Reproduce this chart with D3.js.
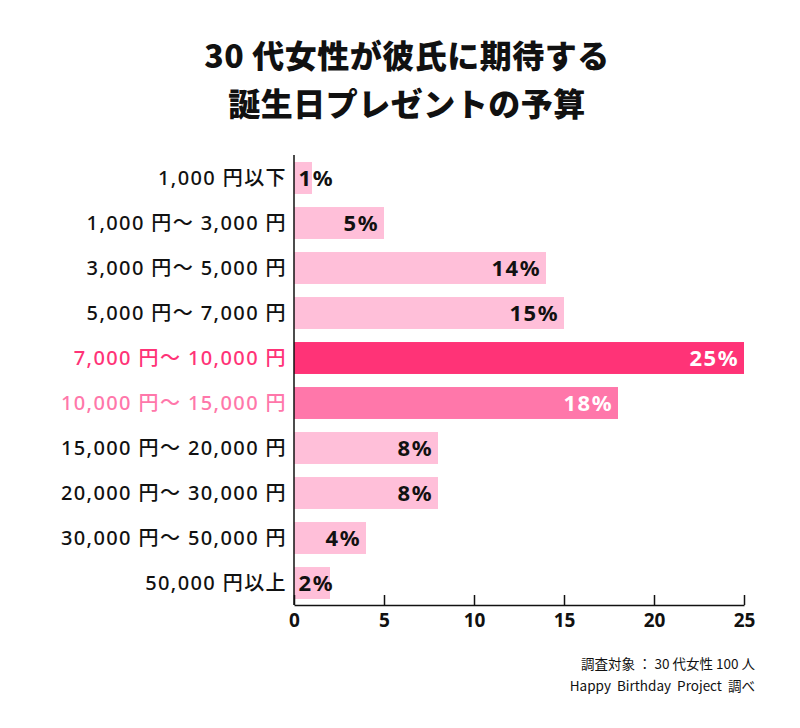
<!DOCTYPE html>
<html><head><meta charset="utf-8">
<script src="https://cdn.jsdelivr.net/npm/d3@7"></script>
<style>body{margin:0;background:#fff}svg{display:block}text{font-family:"Noto Sans CJK JP","Noto Sans",sans-serif}</style>
</head><body><svg id="c" width="800" height="728"></svg>
<script>
const categories = ["1,000 円以下","1,000 円〜 3,000 円","3,000 円〜 5,000 円","5,000 円〜 7,000 円","7,000 円〜 10,000 円","10,000 円〜 15,000 円","15,000 円〜 20,000 円","20,000 円〜 30,000 円","30,000 円〜 50,000 円","50,000 円以上"];
const values = [1,5,14,15,25,18,8,8,4,2];
const xTicks = [0,5,10,15,20,25];
const titleLines = ["30 代女性が彼氏に期待する","誕生日プレゼントの予算"];
const notes = ["調査対象 ： 30 代女性 100 人","Happy  Birthday  Project  調べ"];

const svg = d3.select("#c");
const x = d3.scaleLinear().domain([0,25]).range([294,744]);
const y = d3.scaleBand().domain(categories).range([155.5,605.5]).paddingInner(0.29).paddingOuter(0.145);
const barColor = i => i===4 ? "#ff3377" : i===5 ? "#ff77aa" : "#ffbfd9";
const labelColor = i => i===4 ? "#ff3377" : i===5 ? "#ff77aa" : "#111";

svg.selectAll("text.title").data(titleLines).join("text")
  .attr("x",407).attr("y",(d,i)=>68+i*48).attr("text-anchor","middle")
  .attr("font-size",32).attr("font-weight",900).attr("fill","#111").attr("letter-spacing",0.5).text(d=>d);

svg.selectAll("rect.bar").data(values).join("rect")
  .attr("x",x(0)).attr("y",(d,i)=>y(categories[i]))
  .attr("width",d=>x(d)-x(0)).attr("height",y.bandwidth())
  .attr("fill",(d,i)=>barColor(i));

svg.selectAll("text.cat").data(categories).join("text")
  .attr("x",287).attr("y",d=>y(d)+y.bandwidth()/2).attr("dy","0.36em")
  .attr("text-anchor","end").attr("font-size",20).attr("font-weight",500).attr("letter-spacing",1.4)
  .style("font-family",'"Noto Sans","Noto Sans CJK JP",sans-serif')
  .attr("fill",(d,i)=>labelColor(i)).text(d=>d);

svg.selectAll("text.val").data(values).join("text")
  .attr("x",d=>Math.max(x(d)-5,334)).attr("y",(d,i)=>y(categories[i])+y.bandwidth()/2).attr("dy","0.36em")
  .attr("text-anchor","end").attr("font-size",22).attr("font-weight",700).attr("letter-spacing",1.5)
  .style("font-family",'"Noto Sans","Noto Sans CJK JP",sans-serif')
  .attr("fill",(d,i)=>(i===4||i===5)?"#fff":"#111").text(d=>d+"%");

const axis = d3.axisBottom(x).tickValues(xTicks).tickSizeInner(-10).tickSizeOuter(0).tickPadding(9);
const g = svg.append("g").attr("transform","translate(0,605)").call(axis);
g.select(".domain").attr("stroke","#111").attr("stroke-width",1.5);
g.selectAll(".tick line").attr("stroke","#111").attr("stroke-width",1.5);
g.selectAll(".tick text").attr("font-size",19).attr("font-weight",700).attr("fill","#111")
  .style("font-family",'"Noto Sans","Noto Sans CJK JP",sans-serif');

svg.append("line").attr("x1",x(0)).attr("x2",x(0)).attr("y1",155).attr("y2",605)
  .attr("stroke","#111").attr("stroke-width",1.5);

svg.selectAll("text.note").data(notes).join("text")
  .attr("x",755).attr("y",(d,i)=>669+i*22).attr("text-anchor","end")
  .attr("font-size",13.5).attr("fill","#111").style("white-space","pre").attr("xml:space","preserve").text(d=>d);
</script></body></html>
